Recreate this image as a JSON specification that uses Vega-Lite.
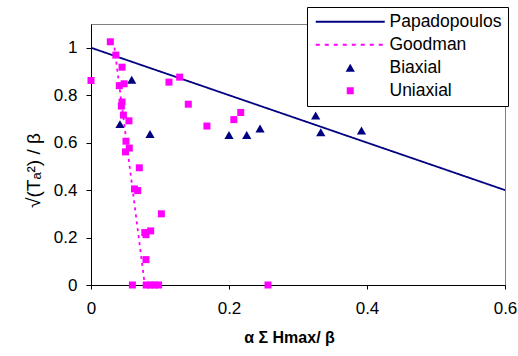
{
  "$schema": "https://vega.github.io/schema/vega-lite/v6.json",
  "width": 414,
  "height": 261,
  "autosize": {"type": "none"},
  "padding": {"left": 91, "top": 24, "right": 13, "bottom": 71},
  "background": "white",
  "config": {
    "font": "Liberation Sans",
    "view": {"stroke": "#808080", "strokeWidth": 1},
    "axis": {
      "grid": false,
      "domainColor": "black",
      "domainWidth": 1,
      "tickColor": "black",
      "labelColor": "black",
      "titleColor": "black",
      "labelFontSize": 17,
      "titleFontSize": 17,
      "labelFont": "Liberation Sans",
      "titleFont": "Liberation Sans"
    }
  },
  "datasets": {
    "lines": [
      {"s": "Papadopoulos", "x": 0, "y": 1},
      {"s": "Papadopoulos", "x": 0.6, "y": 0.4},
      {"s": "Goodman", "x": 0.034, "y": 1},
      {"s": "Goodman", "x": 0.078, "y": 0}
    ],
    "biaxial": [
      {"s": "Biaxial", "x": 0.059, "y": 0.865},
      {"s": "Biaxial", "x": 0.042, "y": 0.678},
      {"s": "Biaxial", "x": 0.0855, "y": 0.636},
      {"s": "Biaxial", "x": 0.2, "y": 0.632},
      {"s": "Biaxial", "x": 0.2257, "y": 0.632},
      {"s": "Biaxial", "x": 0.245, "y": 0.66},
      {"s": "Biaxial", "x": 0.3256, "y": 0.714},
      {"s": "Biaxial", "x": 0.333, "y": 0.644},
      {"s": "Biaxial", "x": 0.392, "y": 0.651}
    ],
    "uniaxial": [
      {"s": "Uniaxial", "x": 0, "y": 0.862},
      {"s": "Uniaxial", "x": 0.028, "y": 1.025},
      {"s": "Uniaxial", "x": 0.036, "y": 0.969},
      {"s": "Uniaxial", "x": 0.045, "y": 0.918},
      {"s": "Uniaxial", "x": 0.041, "y": 0.84},
      {"s": "Uniaxial", "x": 0.048, "y": 0.848},
      {"s": "Uniaxial", "x": 0.113, "y": 0.855},
      {"s": "Uniaxial", "x": 0.1285, "y": 0.876},
      {"s": "Uniaxial", "x": 0.045, "y": 0.771},
      {"s": "Uniaxial", "x": 0.044, "y": 0.754},
      {"s": "Uniaxial", "x": 0.047, "y": 0.716},
      {"s": "Uniaxial", "x": 0.055, "y": 0.692},
      {"s": "Uniaxial", "x": 0.141, "y": 0.762},
      {"s": "Uniaxial", "x": 0.168, "y": 0.67},
      {"s": "Uniaxial", "x": 0.217, "y": 0.727},
      {"s": "Uniaxial", "x": 0.207, "y": 0.697},
      {"s": "Uniaxial", "x": 0.0507, "y": 0.606},
      {"s": "Uniaxial", "x": 0.0555, "y": 0.577},
      {"s": "Uniaxial", "x": 0.05, "y": 0.561},
      {"s": "Uniaxial", "x": 0.07, "y": 0.494},
      {"s": "Uniaxial", "x": 0.063, "y": 0.405},
      {"s": "Uniaxial", "x": 0.0677, "y": 0.398},
      {"s": "Uniaxial", "x": 0.102, "y": 0.3},
      {"s": "Uniaxial", "x": 0.078, "y": 0.221},
      {"s": "Uniaxial", "x": 0.0865, "y": 0.228},
      {"s": "Uniaxial", "x": 0.0797, "y": 0.212},
      {"s": "Uniaxial", "x": 0.0797, "y": 0.107},
      {"s": "Uniaxial", "x": 0.06, "y": 0},
      {"s": "Uniaxial", "x": 0.08, "y": 0},
      {"s": "Uniaxial", "x": 0.086, "y": 0},
      {"s": "Uniaxial", "x": 0.092, "y": 0},
      {"s": "Uniaxial", "x": 0.098, "y": 0},
      {"s": "Uniaxial", "x": 0.2565, "y": 0}
    ]
  },
  "encoding": {
    "x": {
      "field": "x",
      "type": "quantitative",
      "scale": {"domain": [0, 0.6], "nice": false, "zero": false},
      "axis": {
        "values": [0, 0.2, 0.4, 0.6],
        "format": "~g",
        "tickSize": 4,
        "labelPadding": 11,
        "labelFlush": false,
        "title": "α Σ Hmax/ β",
        "titleFontWeight": "bold",
        "titleFontSize": 16,
        "titleX": 198,
        "titleY": 52,
        "titleBaseline": "middle"
      }
    },
    "y": {
      "field": "y",
      "type": "quantitative",
      "scale": {"domain": [0, 1.1], "nice": false, "zero": false},
      "axis": {
        "values": [0, 0.2, 0.4, 0.6, 0.8, 1],
        "format": "~g",
        "tickSize": 5,
        "labelPadding": 9,
        "title": "√(Tₐ²) / β",
        "titleFontWeight": "normal",
        "titleFontSize": 19,
        "titleX": -58,
        "titleY": 146,
        "titleAngle": -90,
        "titleBaseline": "middle"
      }
    },
    "color": {
      "field": "s",
      "type": "nominal",
      "scale": {
        "domain": ["Papadopoulos", "Goodman", "Biaxial", "Uniaxial"],
        "range": ["#000080", "#ff00ff", "#000080", "#ff00ff"]
      },
      "legend": {
        "orient": "none",
        "legendX": 216,
        "legendY": -17,
        "title": null,
        "padding": 6,
        "strokeColor": "black",
        "fillColor": "white",
        "labelFontSize": 17.5,
        "labelFont": "Liberation Sans",
        "labelColor": "black",
        "labelExpr": "datum.label + '   '",
        "labelLimit": 300,
        "symbolOffset": 28.5,
        "labelOffset": 30.5,
        "rowPadding": 4,
        "symbolSize": 60,
        "encode": {
          "symbols": {
            "update": {
              "shape": {"signal": "datum.value==='Papadopoulos'||datum.value==='Goodman' ? 'stroke' : datum.value==='Biaxial' ? 'triangle-up' : 'square'"},
              "size": {"signal": "datum.value==='Papadopoulos'||datum.value==='Goodman' ? 4761 : datum.value==='Biaxial' ? 85 : 49"},
              "stroke": {"signal": "datum.value==='Papadopoulos'||datum.value==='Biaxial' ? '#000080' : '#ff00ff'"},
              "fill": {"signal": "datum.value==='Biaxial' ? '#000080' : datum.value==='Uniaxial' ? '#ff00ff' : 'transparent'"},
              "strokeWidth": {"signal": "datum.value==='Papadopoulos'||datum.value==='Goodman' ? 1.8 : 0"},
              "strokeDash": {"signal": "datum.value==='Goodman' ? [4,5] : [1,0]"},
              "opacity": {"value": 1}
            }
          }
        }
      }
    }
  },
  "layer": [
    {
      "data": {"name": "lines"},
      "mark": {"type": "line", "strokeWidth": 1.8},
      "encoding": {
        "strokeDash": {
          "field": "s",
          "type": "nominal",
          "scale": {"domain": ["Papadopoulos", "Goodman"], "range": [[1, 0], [3, 4]]},
          "legend": null
        }
      }
    },
    {
      "data": {"name": "biaxial"},
      "mark": {"type": "point", "shape": "triangle-up", "filled": true, "opacity": 1, "size": 85}
    },
    {
      "data": {"name": "uniaxial"},
      "mark": {"type": "point", "shape": "square", "filled": true, "opacity": 1, "size": 49}
    }
  ]
}
